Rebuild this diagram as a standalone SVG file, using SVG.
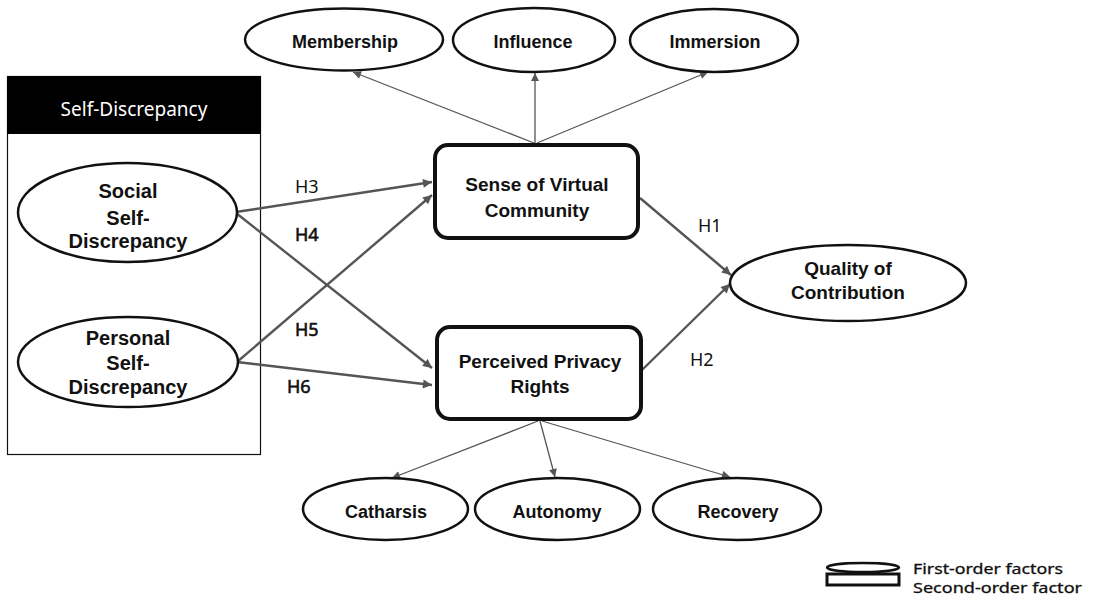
<svg xmlns="http://www.w3.org/2000/svg" width="1097" height="606" viewBox="0 0 1097 606">
<defs>
<style>
.bg{fill:#fff}
.ell{fill:#fff;stroke:#111;stroke-width:2.5}
.box{fill:#fff;stroke:#111;stroke-width:4}
.lbl{font-family:"Liberation Sans",Arial,sans-serif;font-weight:bold;fill:#111;text-anchor:middle}
.s18{font-size:18px}
.s19{font-size:19px}
.s20{font-size:20px}
.h{font-family:"Noto Sans","Open Sans",sans-serif;font-size:18px;fill:#111}
.hb{stroke:#111;stroke-width:0.6}
.lg{font-family:"Noto Sans","Open Sans",sans-serif;font-size:14px;fill:#111;stroke:#111;stroke-width:0.3}
.thin{stroke:#555;stroke-width:1.3;fill:none}
.thick{stroke:#555;stroke-width:2.4;fill:none}
</style>
<marker id="ahs" viewBox="0 0 10 10" refX="10" refY="5" markerWidth="9" markerHeight="8" markerUnits="userSpaceOnUse" orient="auto">
<path d="M0,0 L10,5 L0,10 z" fill="#555"/>
</marker>
<marker id="ahl" viewBox="0 0 10 10" refX="10" refY="5" markerWidth="11" markerHeight="9" markerUnits="userSpaceOnUse" orient="auto">
<path d="M0,0 L10,5 L0,10 z" fill="#555"/>
</marker>
</defs>
<rect class="bg" x="0" y="0" width="1097" height="606"/>

<g id="self-discrepancy-group">
<rect x="7.5" y="76.5" width="253" height="378" fill="#fff" stroke="#111" stroke-width="1.2"/>
<rect x="7" y="76" width="254" height="58" fill="#000"/>
<text x="134" y="116" font-family="Noto Sans,Open Sans,sans-serif" font-size="19" fill="#fff" text-anchor="middle">Self-Discrepancy</text>
</g>

<g id="connectors">
<line class="thin" x1="534" y1="143" x2="353" y2="72" marker-end="url(#ahs)"/>
<line class="thin" x1="535" y1="143" x2="535" y2="73" marker-end="url(#ahs)"/>
<line class="thin" x1="537" y1="143" x2="708" y2="72" marker-end="url(#ahs)"/>
<line class="thick" x1="236" y1="212" x2="432" y2="182" marker-end="url(#ahl)"/>
<line class="thick" x1="236" y1="213" x2="432" y2="368" marker-end="url(#ahl)"/>
<line class="thick" x1="237" y1="362" x2="432" y2="195" marker-end="url(#ahl)"/>
<line class="thick" x1="237" y1="362" x2="432" y2="385" marker-end="url(#ahl)"/>
<line class="thick" x1="640" y1="198" x2="731" y2="275" marker-end="url(#ahl)"/>
<line class="thick" x1="642" y1="370" x2="730" y2="284" marker-end="url(#ahl)"/>
<line class="thin" x1="538" y1="421" x2="392" y2="478" marker-end="url(#ahs)"/>
<line class="thin" x1="540" y1="421" x2="555" y2="477" marker-end="url(#ahs)"/>
<line class="thin" x1="542" y1="421" x2="730" y2="477" marker-end="url(#ahs)"/>
</g>

<g id="hyp-labels">
<text class="h" x="295" y="193">H3</text>
<text class="h hb" x="295" y="241">H4</text>
<text class="h hb" x="295" y="336">H5</text>
<text class="h hb" x="287" y="393">H6</text>
<text class="h" x="698" y="232">H1</text>
<text class="h" x="690" y="366">H2</text>
</g>

<g id="social">
<ellipse class="ell" cx="127.5" cy="212.5" rx="109.5" ry="49.5"/>
<text class="lbl s20" x="128" y="198">Social</text>
<text class="lbl s20" x="128" y="225">Self-</text>
<text class="lbl s20" x="128" y="248">Discrepancy</text>
</g>

<g id="personal">
<ellipse class="ell" cx="128" cy="362" rx="110" ry="45"/>
<text class="lbl s20" x="128" y="345">Personal</text>
<text class="lbl s20" x="128" y="370">Self-</text>
<text class="lbl s20" x="128" y="394">Discrepancy</text>
</g>

<g id="membership">
<ellipse class="ell" cx="344" cy="39.5" rx="99" ry="31"/>
<text class="lbl s18" x="345" y="48">Membership</text>
</g>
<g id="influence">
<ellipse class="ell" cx="534" cy="40" rx="81" ry="32"/>
<text class="lbl s18" x="533" y="48">Influence</text>
</g>
<g id="immersion">
<ellipse class="ell" cx="714" cy="40.5" rx="84" ry="31.5"/>
<text class="lbl s18" x="715" y="48">Immersion</text>
</g>

<g id="svc">
<rect class="box" x="435" y="145" width="203" height="93" rx="13"/>
<text class="lbl s19" x="537" y="191">Sense of Virtual</text>
<text class="lbl s19" x="537" y="217">Community</text>
</g>

<g id="ppr">
<rect class="box" x="437" y="327" width="204" height="92" rx="13"/>
<text class="lbl s19" x="540" y="368">Perceived Privacy</text>
<text class="lbl s19" x="540" y="393">Rights</text>
</g>

<g id="quality">
<ellipse class="ell" cx="848" cy="283" rx="118" ry="38"/>
<text class="lbl s19" x="848" y="275">Quality of</text>
<text class="lbl s19" x="848" y="299">Contribution</text>
</g>

<g id="catharsis">
<ellipse class="ell" cx="385.5" cy="509" rx="82.5" ry="31"/>
<text class="lbl s18" x="386" y="518">Catharsis</text>
</g>
<g id="autonomy">
<ellipse class="ell" cx="557.5" cy="509" rx="82.5" ry="31"/>
<text class="lbl s18" x="557" y="518">Autonomy</text>
</g>
<g id="recovery">
<ellipse class="ell" cx="737" cy="509" rx="84" ry="31"/>
<text class="lbl s18" x="738" y="518">Recovery</text>
</g>

<g id="legend">
<ellipse cx="863" cy="567.5" rx="36" ry="4.5" fill="#fff" stroke="#111" stroke-width="2.5"/>
<rect x="827" y="574" width="72" height="11" fill="#fff" stroke="#111" stroke-width="3"/>
<text class="lg" x="913" y="574" textLength="150" lengthAdjust="spacingAndGlyphs">First-order factors</text>
<text class="lg" x="913" y="593" textLength="169" lengthAdjust="spacingAndGlyphs">Second-order factor</text>
</g>
</svg>
